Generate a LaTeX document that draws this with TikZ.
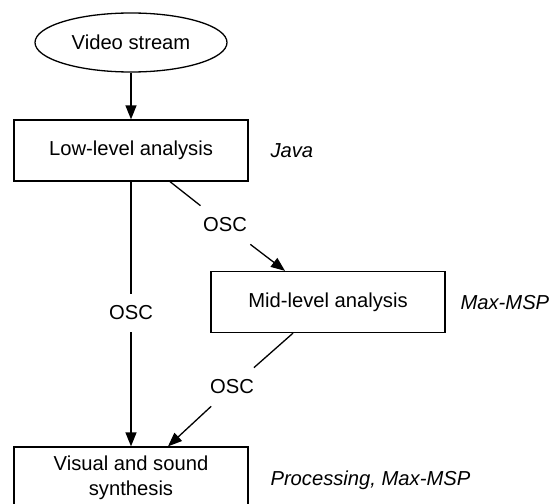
\documentclass[tikz,border=0pt]{standalone}
\usepackage{fontspec}
\setmainfont{Liberation Sans}
\usetikzlibrary{arrows.meta,shapes.geometric}
\begin{document}
\begin{tikzpicture}[x=1pt,y=-1pt,
  every node/.style={font=\fontsize{20.2}{25}\selectfont},
  box/.style={draw,line width=1.3pt,minimum width=234pt,minimum height=61pt,inner sep=0pt,align=center},
  oval/.style={draw,ellipse,line width=1.3pt,minimum width=192pt,minimum height=59pt,inner sep=0pt},
  osc/.style={inner sep=12pt},
  note/.style={anchor=west,font=\fontsize{20.2}{25}\selectfont\itshape},
  conn/.style={line width=1.3pt},
  arr/.style={conn,-{Triangle[length=14pt,width=11pt]}}]
\useasboundingbox (0,0) rectangle (551,503);
\clip (0,0) rectangle (551,503);
\node[oval] (video) at (131,42.5) {Video stream};
\node[box] (low) at (131,150.5) {Low-level analysis};
\node[box] (mid) at (328,302) {Mid-level analysis};
\node[box,minimum height=62pt] (synth) at (131,478) {Visual and sound\\synthesis};
\node[note] (java) at (267,151) {Java};
\node[note] (maxmsp) at (457,303) {Max-MSP};
\node[note] (proc) at (267,480) {Processing, Max-MSP};
\node[osc] (osc1) at (225,225) {OSC};
\node[osc] (osc2) at (232,387) {OSC};
\node[osc] (osc3) at (131,313) {OSC};
\draw[arr] (video) -- (low);
\draw[conn] (low) -- (osc3);
\draw[arr] (osc3) -- (synth);
\draw[conn] ([xshift=39pt]low.south) -- (osc1);
\draw[arr] (osc1) -- ([xshift=-43pt]mid.north);
\draw[conn] ([xshift=-35pt]mid.south) -- (osc2);
\draw[arr] (osc2) -- ([xshift=37pt]synth.north);
\end{tikzpicture}
\end{document}
